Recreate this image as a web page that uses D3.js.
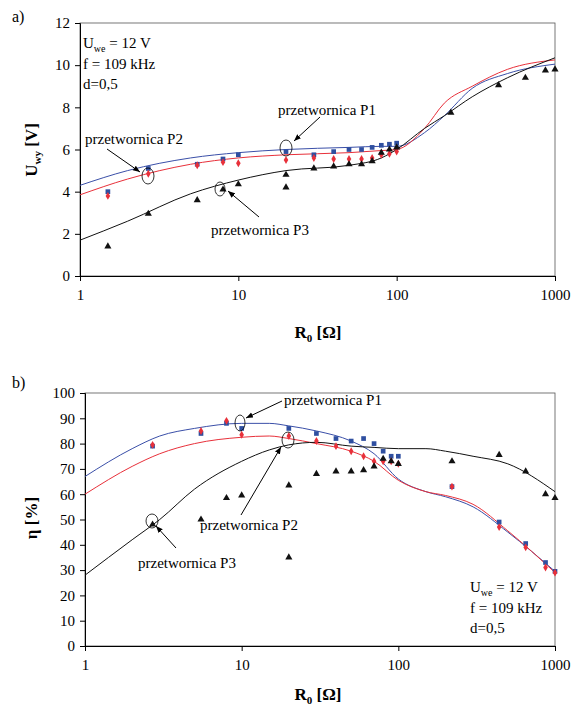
<!DOCTYPE html><html><head><meta charset="utf-8"><script src="https://cdn.jsdelivr.net/npm/d3@7"></script>
<style>body{margin:0;background:#fff}text{font-family:"Liberation Serif","DejaVu Serif",serif}</style></head><body><svg id="c" width="585" height="720"></svg><script>
const xTicks=[1,10,100,1000];
const ptsX=[1.5,2.7,5.5,8,10,20,30,40,50,60,70,80,90,100];
const aP1=[4.0,5.1,5.3,5.55,5.75,5.9,5.75,5.9,6.0,6.0,6.1,6.2,6.25,6.3];
const aP2=[3.8,4.85,5.25,5.4,5.35,5.5,5.6,5.55,5.55,5.55,5.6,5.75,5.8,5.9];
const aP3X=[1.5,2.7,5.5,8,10,20,20,30,40,50,60,70,80,90,100,220,440,650,870,1000];
const aP3=[1.4,2.95,3.6,4.1,4.35,4.8,4.2,5.1,5.2,5.3,5.3,5.45,5.85,6.0,6.1,7.75,9.05,9.4,9.75,9.8];
const cX=[1,2,5,10,20,50,80,100,150,200,300,500,1000];
const aC1=[4.3,5.0,5.6,5.85,6.0,6.1,6.15,6.15,6.8,7.6,8.9,9.6,10.05];
const aC2=[3.85,4.6,5.3,5.6,5.75,5.85,5.95,6.0,7.0,8.2,9.0,9.8,10.25];
const aC3=[1.7,2.6,3.9,4.55,5.0,5.25,5.6,6.0,7.0,7.6,8.5,9.4,10.35];
const bX=[2.7,5.5,8,10,20,30,40,50,60,70,80,90,100,220,440,650,870,1000];
const bP1=[79,84,88,86,86,84,82,81,82,80,77,75,75,63,49,40.5,33,29.5];
const bP2=[79.5,85,89,83.5,83,81,79,77,75,73,73,73,72,63,47,39,31,29];
const bP3X=[2.7,5.5,8,10,20,20,30,40,50,60,70,80,90,100,220,440,650,870,1000];
const bP3=[48,50,58.5,59.5,63.5,35,68,69,69,69.5,71,74,73,72,73,75.5,69,60,58.5];
const bCX=[1,2,3,5,10,15,20,30,50,70,100,150,200,300,500,1000];
const bC1=[67,78,83,86,88,88,87,85,81,76,66,61,59,55,45,29.5];
const bC2=[60,71,76,80,82.5,83,82,80,77,73,65.5,61,59.5,56,45.5,29];
const bC3=[28,42,50,62,73,77.5,79.5,80.5,79,78.5,78,78,77,75,72,61];
const svg=d3.select("#c");
function panel(o){
 const x=d3.scaleLog().domain([1,1000]).range([o.x0,o.x1]);
 const y=d3.scaleLinear().domain([0,o.ymax]).range([o.y1,o.y0]);
 const g=svg.append("g");
 g.append("rect").attr("x",o.x0).attr("y",o.y0).attr("width",o.x1-o.x0).attr("height",o.y1-o.y0).attr("fill","none").attr("stroke","#555").attr("stroke-width",0.8);
 const ax=g.append("g").attr("transform",`translate(0,${o.y1})`).call(d3.axisBottom(x).tickValues(xTicks).tickFormat(d3.format("d")).tickSize(5).tickPadding(8));
 const ay=g.append("g").attr("transform",`translate(${o.x0},0)`).call(d3.axisLeft(y).tickValues(o.yt).tickSize(5).tickPadding(5));
 [ax,ay].forEach(a=>{a.attr("font-family",null);a.select(".domain").attr("stroke","#000");a.selectAll("text").attr("font-size",15).style("font-family","Liberation Serif");});
 const ln=d3.line().x((d,i)=>x(d[0])).y(d=>y(d[1])).curve(d3.curveMonotoneX);
 o.curves.forEach(([xs,ys,c])=>g.append("path").attr("d",ln(xs.map((v,i)=>[v,ys[i]]))).attr("fill","none").attr("stroke",c).attr("stroke-width",1));
 const sym={sq:d3.symbolSquare,di:d3.symbolDiamond,tr:d3.symbolTriangle};
 o.pts.forEach(([xs,ys,c,s])=>g.selectAll(null).data(xs.map((v,i)=>[v,ys[i]])).join("path").attr("d",d3.symbol(sym[s],s==="di"?18:22)).attr("transform",d=>`translate(${x(d[0])},${y(d[1])})`).attr("fill",c));
 return g;
}
panel({x0:80,x1:555,y0:23,y1:276,ymax:12,yt:[0,2,4,6,8,10,12],
 curves:[[cX,aC1,"#3a4fa8"],[cX,aC2,"#e8303a"],[cX,aC3,"#111"]],
 pts:[[ptsX,aP1,"#2f4fa0","sq"],[ptsX,aP2,"#e8303a","di"],[aP3X,aP3,"#111","tr"]]});
panel({x0:85,x1:555,y0:393,y1:646,ymax:100,yt:d3.range(0,101,10),
 curves:[[bCX,bC1,"#3a4fa8"],[bCX,bC2,"#e8303a"],[bCX,bC3,"#111"]],
 pts:[[bX,bP1,"#2f4fa0","sq"],[bX,bP2,"#e8303a","di"],[bP3X,bP3,"#111","tr"]]});
svg.append("defs").append("marker").attr("id","ar").attr("viewBox","0 0 10 10").attr("refX",10).attr("refY",5).attr("markerWidth",7).attr("markerHeight",7).attr("orient","auto").append("path").attr("d","M0,1L10,5L0,9z").attr("fill","#000");
function txt(x,y,s,opt={}){const t=svg.append("text").attr("x",x).attr("y",y).attr("font-size",opt.fs||15).text(s);if(opt.b)t.attr("font-weight","bold");if(opt.rot)t.attr("transform",`rotate(-90,${x},${y})`).attr("text-anchor","middle");if(opt.mid)t.attr("text-anchor","middle");return t;}
function ann(tx,ty,label,x1,y1,x2,y2,cx,cy,rx,ry){txt(tx,ty,label);svg.append("line").attr("x1",x1).attr("y1",y1).attr("x2",x2).attr("y2",y2).attr("stroke","#000").attr("marker-end","url(#ar)");svg.append("ellipse").attr("cx",cx).attr("cy",cy).attr("rx",rx).attr("ry",ry).attr("fill","none").attr("stroke","#000").attr("stroke-width",0.8);}
ann(278,115,"przetwornica P1",320,117,294,141,286,148,6,8);
ann(85,144,"przetwornica P2",107,149,140,172,148,176,6,8);
ann(211,235,"przetwornica P3",259,217,228,191,220,189,5,7);
ann(284,405,"przetwornica P1",282,401,246,418,240,423,5,8);
ann(200,530,"przetwornica P2",241,515,281,447,288,440,6,8);
ann(138,568,"przetwornica P3",176,548,156,526,152,521,6,7);
function info(x,y){const t=txt(x,y,"U");t.append("tspan").attr("font-size",10).attr("dy",4).text("we");t.append("tspan").attr("dy",-4).text(" = 12 V");txt(x,y+21,"f = 109 kHz");txt(x,y+41,"d=0,5");}
info(83,48);info(470,592);
txt(12,22,"a)",{fs:16});txt(12,388,"b)",{fs:16});
const ya=txt(37,150,"U",{b:1,rot:1,fs:17});ya.append("tspan").attr("font-size",11).attr("dy",4).text("wy");ya.append("tspan").attr("dy",-4).text(" [V]");
txt(37,518,"η [%]",{b:1,rot:1,fs:17});
[338,700].forEach(yy=>{const t=txt(318,yy,"R",{b:1,mid:1,fs:17});t.append("tspan").attr("font-size",11).attr("dy",4).text("0");t.append("tspan").attr("dy",-4).text(" [Ω]");});
</script></body></html>
